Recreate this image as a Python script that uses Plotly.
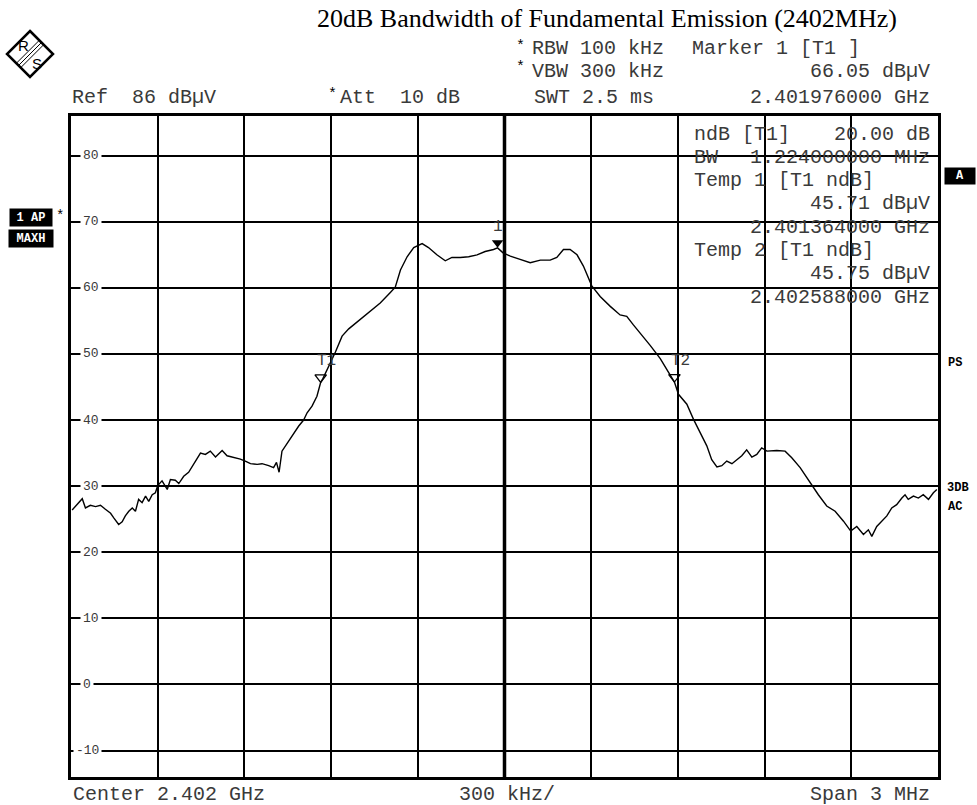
import plotly.graph_objects as go

# ---------------- data ----------------
freq_mhz = [
    2400.504, 2400.521, 2400.539, 2400.550, 2400.567, 2400.585, 2400.602, 2400.619,
    2400.637, 2400.648, 2400.665, 2400.677, 2400.688, 2400.700, 2400.712, 2400.723,
    2400.734, 2400.746, 2400.758, 2400.769, 2400.781, 2400.792, 2400.800, 2400.815,
    2400.833, 2400.844, 2400.861, 2400.873, 2400.890, 2400.907, 2400.925, 2400.948,
    2400.965, 2400.982, 2401.000, 2401.023, 2401.040, 2401.063, 2401.086, 2401.103,
    2401.121, 2401.144, 2401.161, 2401.184, 2401.201, 2401.211, 2401.220, 2401.230,
    2401.253, 2401.271, 2401.288, 2401.305, 2401.317, 2401.334, 2401.351, 2401.364,
    2401.372, 2401.415, 2401.438, 2401.461, 2401.501, 2401.536, 2401.570, 2401.605,
    2401.622, 2401.640, 2401.663, 2401.686, 2401.715, 2401.737, 2401.766, 2401.795,
    2401.818, 2401.847, 2401.876, 2401.905, 2401.933, 2401.962, 2401.976, 2401.995,
    2402.020, 2402.054, 2402.089, 2402.124, 2402.158, 2402.181, 2402.204, 2402.227,
    2402.251, 2402.273, 2402.302, 2402.331, 2402.366, 2402.400, 2402.423, 2402.446,
    2402.469, 2402.504, 2402.539, 2402.566, 2402.588, 2402.602, 2402.631, 2402.654,
    2402.677, 2402.700, 2402.717, 2402.735, 2402.752, 2402.769, 2402.787, 2402.804,
    2402.821, 2402.838, 2402.856, 2402.873, 2402.890, 2402.908, 2402.942, 2402.971,
    2402.994, 2403.023, 2403.057, 2403.086, 2403.115, 2403.144, 2403.173, 2403.198,
    2403.219, 2403.242, 2403.259, 2403.271, 2403.288, 2403.305, 2403.323, 2403.340,
    2403.357, 2403.375, 2403.386, 2403.397, 2403.415, 2403.432, 2403.449, 2403.467,
    2403.484, 2403.496,
]
level_dbuv = [
    26.4, 27.2, 28.1, 26.7, 27.1, 26.9, 27.1, 26.5,
    25.9, 25.2, 24.2, 24.6, 25.5, 26.2, 26.7, 26.2,
    28.0, 27.5, 28.5, 27.7, 28.7, 29.0, 30.1, 30.8,
    29.5, 31.0, 30.9, 30.4, 31.5, 32.1, 33.3, 35.0,
    34.8, 35.3, 34.4, 35.4, 34.6, 34.4, 34.1, 33.8,
    33.4, 33.3, 33.4, 33.1, 32.8, 33.6, 32.1, 35.3,
    36.8, 38.1, 39.1, 40.0, 41.1, 42.1, 43.6, 45.71,
    46.3, 50.3, 52.7, 53.8, 55.2, 56.4, 57.7, 59.3,
    60.1, 62.7, 64.7, 66.1, 66.7, 66.1, 65.0, 64.1,
    64.6, 64.6, 64.7, 65.0, 65.5, 65.8, 66.05, 65.3,
    64.8, 64.3, 63.8, 64.2, 64.2, 64.6, 65.8, 65.8,
    65.0, 63.3, 60.3, 58.7, 57.2, 55.9, 55.7, 54.4,
    53.2, 51.3, 49.3, 47.4, 45.75, 43.9, 42.4, 40.1,
    38.1, 36.1, 34.0, 32.9, 33.1, 33.8, 33.4, 34.0,
    34.6, 35.5, 34.4, 34.8, 35.8, 35.3, 35.4, 35.3,
    34.3, 32.8, 30.5, 28.7, 27.0, 26.2, 24.7, 23.2,
    23.9, 22.7, 23.4, 22.4, 23.9, 24.7, 25.5, 26.7,
    27.2, 28.2, 28.7, 28.0, 28.5, 28.2, 28.7, 28.0,
    29.0, 29.5,
]

marker_names = ["1", "T1", "T2"]
marker_freq_mhz = [2401.976, 2401.364, 2402.588]
marker_level = [66.05, 45.71, 45.75]

y_tick_values = [80, 70, 60, 50, 40, 30, 20, 10, 0, -10]
y_tick_labels = ["80", "70", "60", "50", "40", "30", "20", "10", "0", "-10"]

center_mhz = 2402.0
span_mhz = 3.0
ref_level = 86
bottom_level = -14

title_text = "20dB Bandwidth of Fundamental Emission (2402MHz)"

# ---------------- layout geometry ----------------
W, H = 977, 805
L, R, T, B = 71, 39, 116, 28
PW, PH = W - L - R, H - T - B


def px(x):
    return (x - L) / PW


def py(y):
    return (H - B - y) / PH


NB = "\u00a0"
MONO = "Liberation Mono"
GRAY = "#3a3a3a"

fig = go.Figure()

fig.add_trace(go.Scatter(
    x=freq_mhz, y=level_dbuv, mode="lines",
    line=dict(color="black", width=1.4),
    hoverinfo="skip", showlegend=False,
))

# marker triangles (tip on the trace)
tri_off = 5 / (PH / (ref_level - bottom_level))
fig.add_trace(go.Scatter(
    x=marker_freq_mhz[:1], y=[v + tri_off for v in marker_level[:1]],
    mode="markers",
    marker=dict(symbol="triangle-down", size=10, color="black"),
    hoverinfo="skip", showlegend=False,
))
fig.add_trace(go.Scatter(
    x=marker_freq_mhz[1:], y=[v + tri_off for v in marker_level[1:]],
    mode="markers",
    marker=dict(symbol="triangle-down-open", size=10, color="black",
                line=dict(width=1.3, color="black")),
    hoverinfo="skip", showlegend=False,
))

annotations = []


def ann(text, x, y, xanchor="left", size=20, color=GRAY, family=MONO, **kw):
    annotations.append(dict(
        text=text, x=px(x), y=py(y), xref="paper", yref="paper",
        xanchor=xanchor, yanchor="middle", showarrow=False,
        font=dict(family=family, size=size, color=color), **kw))


# marker labels
for name, f, v in zip(marker_names, marker_freq_mhz, marker_level):
    annotations.append(dict(
        text=name, x=f, y=v, xref="x", yref="y", showarrow=False,
        xanchor="center", yanchor="middle", yshift=21,
        xshift=0 if name == "1" else 6,
        font=dict(family=MONO, size=16, color=GRAY)))

# y tick labels inside the grid
for v, lab in zip(y_tick_values, y_tick_labels):
    annotations.append(dict(
        text=lab, x=px(73 if lab.startswith("-") else 80), y=v,
        xref="paper", yref="y", xanchor="left", yanchor="middle",
        showarrow=False, bgcolor="white", borderpad=2,
        font=dict(family=MONO, size=13, color=GRAY)))

# title
ann(title_text, 607, 18, xanchor="center", size=26, color="black",
    family="Liberation Serif")

# header rows
ann("*", 520, 46, xanchor="center", size=15, color="black")
ann("RBW" + NB + "100" + NB + "kHz", 530, 49)
ann("Marker" + NB + "1" + NB + "[T1" + NB + "]", 690, 49)
ann("*", 520, 68, xanchor="center", size=15, color="black")
ann("VBW" + NB + "300" + NB + "kHz", 530, 71)
ann("66.05" + NB + "dBµV", 932, 71, xanchor="right")
ann("Ref" + NB * 2 + "86" + NB + "dBµV", 70, 98)
ann("*", 332, 95, xanchor="center", size=15, color="black")
ann("Att" + NB * 2 + "10" + NB + "dB", 338, 98)
ann("SWT" + NB + "2.5" + NB + "ms", 532, 98)
ann("2.401976000" + NB + "GHz", 932, 98, xanchor="right")

# info box inside the plot
rows = [134, 157.3, 180.6, 203.9, 227.2, 250.5, 273.8, 297.1]
ann("ndB" + NB + "[T1]", 692, rows[0])
ann("20.00" + NB + "dB", 932, rows[0], xanchor="right")
ann("BW", 692, rows[1])
ann("1.224000000" + NB + "MHz", 932, rows[1], xanchor="right")
ann("Temp" + NB + "1" + NB + "[T1" + NB + "ndB]", 692, rows[2])
ann("45.71" + NB + "dBµV", 932, rows[3], xanchor="right")
ann("2.401364000" + NB + "GHz", 932, rows[4], xanchor="right")
ann("Temp" + NB + "2" + NB + "[T1" + NB + "ndB]", 692, rows[5])
ann("45.75" + NB + "dBµV", 932, rows[6], xanchor="right")
ann("2.402588000" + NB + "GHz", 932, rows[7], xanchor="right")

# bottom row
ann("Center" + NB + "2.402" + NB + "GHz", 71, 794)
ann("300" + NB + "kHz/", 457, 794)
ann("Span" + NB + "3" + NB + "MHz", 932, 794, xanchor="right")

# side status labels
ann("<b>1" + NB + "AP</b>", 31, 218, xanchor="center", size=12, color="white",
    bgcolor="black", width=40, height=15)
ann("<b>MAXH</b>", 31, 238, xanchor="center", size=12, color="white",
    bgcolor="black", width=42, height=15)
ann("*", 60, 216, xanchor="center", size=14, color="black")
ann("<b>A</b>", 960, 176, xanchor="center", size=12, color="white",
    bgcolor="black", width=28, height=14)
ann("<b>PS</b>", 946, 363, size=12, color="black")
ann("<b>3DB</b>", 945, 488, size=12, color="black")
ann("<b>AC</b>", 946, 507, size=12, color="black")

# R&S logo
cx, cy, hs = 30, 54, 23
shapes = []
diamond = "M {} {} L {} {} L {} {} L {} {} Z".format(
    px(cx), py(cy - hs), px(cx + hs), py(cy), px(cx), py(cy + hs), px(cx - hs), py(cy))
shapes.append(dict(type="path", path=diamond, xref="paper", yref="paper",
                   line=dict(color="black", width=2.5), fillcolor="white"))
for d in (-2.2, 0, 2.2):
    shapes.append(dict(type="line", xref="paper", yref="paper",
                       x0=px(cx + hs / 2 + d), y0=py(cy - hs / 2 + d),
                       x1=px(cx - hs / 2 + d), y1=py(cy + hs / 2 + d),
                       line=dict(color="black", width=1)))
ann("R", 23, 45, xanchor="center", size=15, color="black", family="Liberation Sans")
ann("S", 37, 63, xanchor="center", size=15, color="black", family="Liberation Sans")

# thick centre line
shapes.append(dict(type="line", xref="x", yref="paper", x0=center_mhz, x1=center_mhz,
                   y0=0, y1=1, line=dict(color="black", width=3.5)))

fig.update_layout(
    width=W, height=H,
    margin=dict(l=L, r=R, t=T, b=B, pad=0),
    paper_bgcolor="white", plot_bgcolor="white",
    showlegend=False,
    annotations=annotations,
    shapes=shapes,
    xaxis=dict(range=[center_mhz - span_mhz / 2, center_mhz + span_mhz / 2],
               tick0=center_mhz - span_mhz / 2, dtick=span_mhz / 10,
               showgrid=True, gridcolor="black", gridwidth=1.6,
               showticklabels=False, ticks="", zeroline=False,
               showline=True, mirror=True, linecolor="black", linewidth=3,
               fixedrange=True),
    yaxis=dict(range=[bottom_level, ref_level], tick0=0, dtick=10,
               showgrid=True, gridcolor="black", gridwidth=1.6,
               showticklabels=False, ticks="", zeroline=False,
               showline=True, mirror=True, linecolor="black", linewidth=3,
               fixedrange=True),
)

fig.write_html(
    "out.html",
    config={"displayModeBar": False},
    post_script="document.body.style.margin='0';document.body.style.overflow='hidden';",
)
